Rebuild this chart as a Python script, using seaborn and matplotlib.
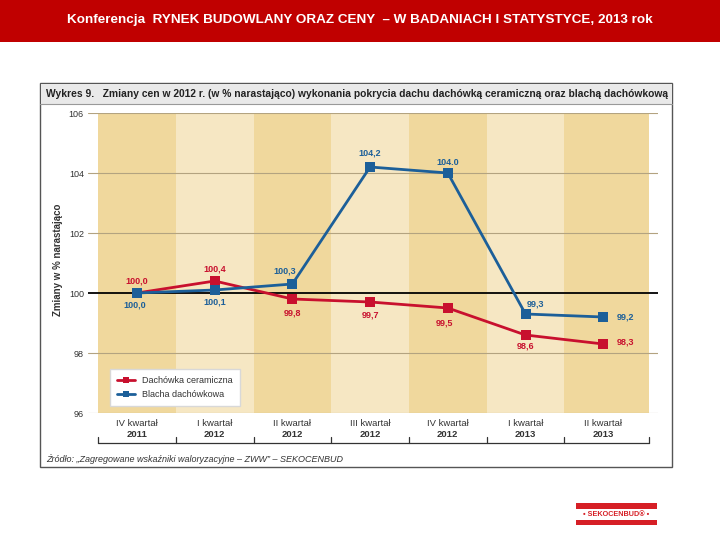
import matplotlib
matplotlib.use("Agg")
import matplotlib.pyplot as plt
import matplotlib.transforms as mtransforms
from matplotlib.patches import Rectangle
import seaborn as sns
import pandas as pd

# ---------------- data ----------------
quarters = ["IV kwartał", "I kwartał", "II kwartał", "III kwartał", "IV kwartał", "I kwartał", "II kwartał"]
years = ["2011", "2012", "2012", "2012", "2012", "2013", "2013"]
series_names = ["Dachówka ceramiczna", "Blacha dachówkowa"]
ceramic = [100.0, 100.4, 99.8, 99.7, 99.5, 98.6, 98.3]
sheet = [100.0, 100.1, 100.3, 104.2, 104.0, 99.3, 99.2]
ceramic_labels = ["100,0", "100,4", "99,8", "99,7", "99,5", "98,6", "98,3"]
sheet_labels = ["100,0", "100,1", "100,3", "104,2", "104.0", "99,3", "99,2"]
y_ticks = [96, 98, 100, 102, 104, 106]

RED = "#C8102E"
BLUE = "#1C5F99"

sns.set_theme(style="white")
plt.rcParams["font.family"] = ["Liberation Sans", "DejaVu Sans"]

W, H = 720, 540
fig = plt.figure(figsize=(7.2, 5.4), dpi=100)
fig.patch.set_facecolor("white")

def fx(px):
    return px / W

def fy(py):
    return 1 - py / H

# header band
fig.patches.append(Rectangle((0, fy(42)), 1, 42 / H, transform=fig.transFigure,
                             facecolor="#C00000", edgecolor="none", zorder=0))
fig.text(0.5, fy(20.5), "Konferencja  RYNEK BUDOWLANY ORAZ CENY  – W BADANIACH I STATYSTYCE, 2013 rok",
         ha="center", va="center", color="white", fontsize=9.7, fontweight="bold")

# chart frame
fig.patches.append(Rectangle((fx(40), fy(467)), fx(632), (467 - 83) / H, transform=fig.transFigure,
                             facecolor="white", edgecolor="#555555", linewidth=1.0, zorder=0))
fig.patches.append(Rectangle((fx(40.5), fy(104)), fx(631), (104 - 83.5) / H, transform=fig.transFigure,
                             facecolor="#E9E9E9", edgecolor="none", zorder=0.5))
fig.lines.append(plt.Line2D([fx(40), fx(672)], [fy(104), fy(104)], transform=fig.transFigure,
                            color="#999999", linewidth=0.8))
fig.text(fx(46), fy(94), "Wykres 9.   Zmiany cen w 2012 r. (w % narastająco) wykonania pokrycia dachu dachówką ceramiczną oraz blachą dachówkową",
         ha="left", va="center", color="#222222", fontsize=7.4, fontweight="bold")

# axes
ax = fig.add_axes([fx(88), fy(413), fx(570), 300 / H])
ax.set_zorder(3)
ax.set_facecolor("none")
x = list(range(len(quarters)))
ax.set_xlim(-0.63, 6.705)
ax.set_ylim(96, 106)

band_dark = "#F0D89D"
band_light = "#F6E7C3"
for i in x:
    right = i + 0.5 if i < len(x) - 1 else 6.59
    ax.axvspan(i - 0.5, right, color=band_dark if i % 2 == 0 else band_light, zorder=0, linewidth=0)

for t in y_ticks:
    if t == 100:
        ax.axhline(t, color="black", linewidth=1.3, zorder=1)
    else:
        ax.axhline(t, color="#B3A380", linewidth=0.8, zorder=1)

df = pd.DataFrame({
    "x": x * 2,
    "value": ceramic + sheet,
    "series": [series_names[0]] * len(x) + [series_names[1]] * len(x),
})
sns.lineplot(data=df, x="x", y="value", hue="series", palette=[RED, BLUE],
             marker="s", markersize=6.5, markeredgewidth=0, linewidth=2.0,
             ax=ax, zorder=3)

# value labels
red_off = [(0, 12), (0, 12), (0, -14), (0, -13), (-3, -15), (0, -11), (22, 2)]
blue_off = [(-2, -12), (0, -12), (-8, 13), (0, 14), (0, 11), (10, 10), (22, 0)]
for i in x:
    ax.annotate(ceramic_labels[i], (i, ceramic[i]), xytext=red_off[i], textcoords="offset pixels",
                ha="center", va="center", color=RED, fontsize=6.5, fontweight="bold", zorder=5)
    ax.annotate(sheet_labels[i], (i, sheet[i]), xytext=blue_off[i], textcoords="offset pixels",
                ha="center", va="center", color=BLUE, fontsize=6.5, fontweight="bold", zorder=5)

ax.set_yticks(y_ticks)
ax.set_yticklabels([str(t) for t in y_ticks], fontsize=6.5, color="#333333")
ax.tick_params(axis="y", length=0, pad=3)
ax.set_xticks([])
ax.set_xlabel("")
ax.set_ylabel("")
for s in ax.spines.values():
    s.set_visible(False)

fig.text(fx(58), fy(260), "Zmiany w % narastająco", rotation=90, ha="center", va="center",
         fontsize=7, fontweight="bold", color="#333333")

# category labels and bracket
trans = mtransforms.blended_transform_factory(ax.transData, ax.transAxes)
for i in x:
    ax.text(i, -0.036, quarters[i], transform=trans, ha="center", va="center", fontsize=6.8, color="#333333")
    ax.text(i, -0.071, years[i], transform=trans, ha="center", va="center", fontsize=6.8,
            fontweight="bold", color="#333333")
bounds = [-0.5 + k for k in range(len(x))] + [6.59]
ax.plot([bounds[0], bounds[-1]], [-0.1, -0.1], transform=trans, color="#333333", linewidth=0.9, clip_on=False)
for b in bounds:
    ax.plot([b, b], [-0.1, -0.08], transform=trans, color="#333333", linewidth=0.9, clip_on=False)

# legend
leg = ax.legend(loc="upper left", bbox_to_anchor=(0.03, 0.163), frameon=True, fancybox=False,
                fontsize=6.5, handlelength=2.0, markerscale=0.75, borderpad=0.8, labelspacing=0.6,
                edgecolor="#D8D8D8", facecolor="white", framealpha=1)
for txt in leg.get_texts():
    txt.set_color("#333333")

fig.text(fx(46), fy(459), "Źródło: „Zagregowane wskaźniki waloryzacyjne – ZWW” – SEKOCENBUD",
         ha="left", va="center", fontsize=6.5, style="italic", color="#333333")

# logo
fig.patches.append(Rectangle((fx(576), fy(509)), fx(81), 6 / H, transform=fig.transFigure,
                             facecolor="#D61F26", edgecolor="none"))
fig.patches.append(Rectangle((fx(576), fy(525)), fx(81), 5 / H, transform=fig.transFigure,
                             facecolor="#D61F26", edgecolor="none"))
fig.text(fx(616), fy(514.5), "• SEKOCENBUD® •", ha="center", va="center", fontsize=5.2,
         fontweight="bold", color="#D61F26")

fig.savefig("out.png", dpi=100, facecolor="white")
